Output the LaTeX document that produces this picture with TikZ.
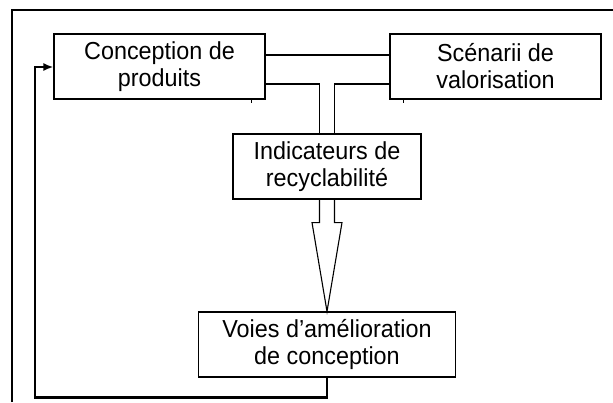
\documentclass[tikz,border=0pt]{standalone}
\usepackage{fontspec}
\setmainfont{Liberation Sans}[FakeStretch=0.95]
\usetikzlibrary{calc,arrows.meta}
\begin{document}
\begin{tikzpicture}[x=0.5pt,y=-0.5pt,
  box/.style={draw,line width=0.55pt,inner sep=0pt,align=center,
    minimum height=32.5pt,font=\fontsize{12.3}{13.5}\selectfont},
  conn/.style={line width=0.55pt},
  fb/.style={line width=1.1pt}]
\useasboundingbox (0,0) rectangle (613,402);
% frame (cropped: only top and left edges visible)
\draw[line width=0.7pt] (12,402) -- (12,10) -- (613,10);
% nodes
\node[box,minimum width=105.5pt] (conc) at (159.5,66.5) {Conception de\\produits};
\node[box,minimum width=105.5pt] (scen) at (495.5,66.5) {Scénarii de\\valorisation};
\node[box,minimum width=94pt] (ind) at (327,166.5) {Indicateurs de\\recyclabilité};
\node[box,minimum width=128.5pt] (voies) at (327,344.5) {Voies d’amélioration\\de conception};
% connectors between top boxes and indicators
\draw[conn] ([yshift=5.75pt]conc.east) -- ([yshift=5.75pt]scen.west);
\draw[conn] ([yshift=-8.75pt]conc.east) -| ([xshift=-3.75pt]ind.north);
\draw[conn] ([yshift=-8.75pt]scen.west) -| ([xshift=3.75pt]ind.north);
% small ticks under the top boxes
\draw[conn] ([xshift=-7pt]conc.south east) -- ++(0,-1.5pt);
\draw[conn] ([xshift=7pt]scen.south west) -- ++(0,-1.5pt);
% hollow arrow from indicators to improvement paths
\draw[conn,line join=miter]
  ([xshift=-3.75pt]ind.south) -- ([xshift=-3.75pt,yshift=-11.5pt]ind.south)
  -- ([xshift=-7.5pt,yshift=-11.5pt]ind.south) -- (voies.north)
  -- ([xshift=7.5pt,yshift=-11.5pt]ind.south)
  -- ([xshift=3.75pt,yshift=-11.5pt]ind.south) -- ([xshift=3.75pt]ind.south);
% feedback loop
\coordinate (fbb) at ([yshift=-10pt]voies.south);
\coordinate (fbl) at (35,397);
\coordinate (fbt) at (35,67);
\draw[fb,-{Latex[length=5pt,width=4pt]}] (voies.south) -- (fbb) -- (fbb -| fbl) -- (fbt) -- (fbt -| conc.west);
\end{tikzpicture}
\end{document}
